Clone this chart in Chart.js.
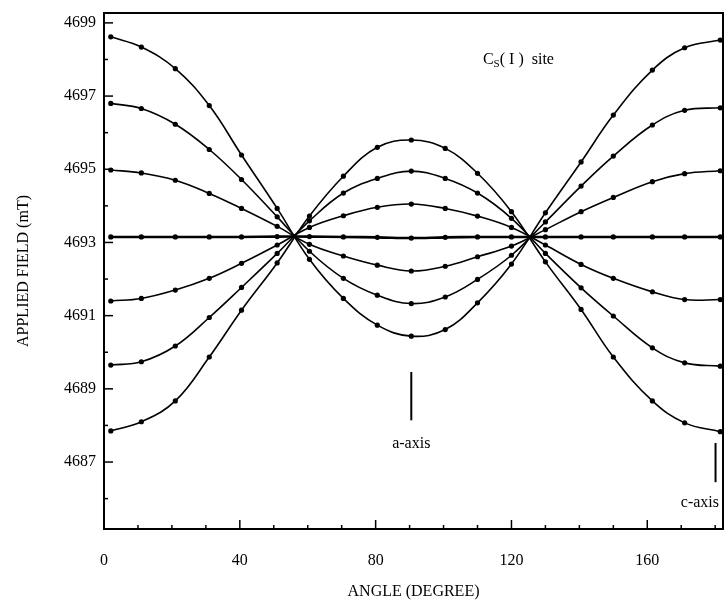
<!DOCTYPE html>
<html>
<head>
<meta charset="utf-8">
<script src="https://cdn.jsdelivr.net/npm/chart.js@4/dist/chart.umd.min.js"></script>
<style>
  body { margin: 0; background: #fff; }
  #wrap { width: 727px; height: 610px; }
</style>
</head>
<body>
<div id="wrap"><canvas id="fieldChart" width="727" height="610"></canvas></div>
<script>
// angle of each measurement (degree)
const angles = [2, 11, 21, 31, 40.5, 51, 60.5, 70.5, 80.5, 90.5, 100.5, 110, 120, 130, 140.5, 150, 161.5, 171, 181.5];

// resonance field of the seven lines (mT)
const line1 = [4698.62, 4698.34, 4697.75, 4696.74, 4695.39, 4693.93, 4692.54, 4691.47, 4690.74, 4690.44, 4690.62, 4691.35, 4692.41, 4693.81, 4695.20, 4696.48, 4697.71, 4698.32, 4698.53];
const line2 = [4696.80, 4696.66, 4696.23, 4695.54, 4694.72, 4693.70, 4692.76, 4692.02, 4691.56, 4691.33, 4691.51, 4691.99, 4692.65, 4693.56, 4694.54, 4695.36, 4696.21, 4696.61, 4696.68];
const line3 = [4694.98, 4694.90, 4694.70, 4694.34, 4693.93, 4693.44, 4692.95, 4692.63, 4692.38, 4692.22, 4692.35, 4692.61, 4692.90, 4693.35, 4693.84, 4694.23, 4694.66, 4694.88, 4694.96];
const line4 = [4693.15, 4693.15, 4693.15, 4693.15, 4693.15, 4693.16, 4693.16, 4693.15, 4693.14, 4693.12, 4693.14, 4693.15, 4693.15, 4693.15, 4693.15, 4693.15, 4693.15, 4693.15, 4693.15];
const line5 = [4691.40, 4691.47, 4691.70, 4692.02, 4692.43, 4692.93, 4693.41, 4693.73, 4693.96, 4694.05, 4693.93, 4693.72, 4693.41, 4692.93, 4692.40, 4692.02, 4691.65, 4691.44, 4691.44];
const line6 = [4689.65, 4689.74, 4690.17, 4690.95, 4691.77, 4692.70, 4693.59, 4694.35, 4694.75, 4694.95, 4694.75, 4694.35, 4693.66, 4692.70, 4691.76, 4690.99, 4690.12, 4689.71, 4689.62];
const line7 = [4687.85, 4688.10, 4688.67, 4689.87, 4691.15, 4692.44, 4693.72, 4694.81, 4695.60, 4695.80, 4695.57, 4694.89, 4693.84, 4692.47, 4691.17, 4689.87, 4688.67, 4688.07, 4687.83];

const xTicks = [0, 40, 80, 120, 160];
const yTicks = [4687, 4689, 4691, 4693, 4695, 4697, 4699];

const allLines = [line1, line2, line3, line4, line5, line6, line7];

function toPoints(vals) {
  return vals.map((v, i) => ({ x: angles[i], y: v }));
}

const datasets = allLines.map(vals => ({
  data: toPoints(vals),
  borderColor: '#000',
  backgroundColor: '#000',
  borderWidth: 1.6,
  pointRadius: 2.6,
  pointBorderWidth: 0,
  tension: 0.4,
  fill: false
}));
datasets[3].borderWidth = 2.6;

// ticks pointing inward, frame and the annotations
const extras = {
  id: 'extras',
  afterDraw(chart) {
    const c = chart.ctx;
    const a = chart.chartArea;
    const xs = chart.scales.x, ys = chart.scales.y;
    c.save();
    c.strokeStyle = '#000';
    c.lineWidth = 2;
    c.strokeRect(a.left, a.top, a.right - a.left, a.bottom - a.top);

    c.lineWidth = 1.5;
    yTicks.forEach(v => {
      const p = ys.getPixelForValue(v);
      c.beginPath(); c.moveTo(a.left, p); c.lineTo(a.left + 9, p); c.stroke();
    });
    for (let v = 4686; v <= 4698; v += 2) {
      const p = ys.getPixelForValue(v);
      c.beginPath(); c.moveTo(a.left, p); c.lineTo(a.left + 4, p); c.stroke();
    }
    xTicks.forEach(v => {
      const p = xs.getPixelForValue(v);
      c.beginPath(); c.moveTo(p, a.bottom); c.lineTo(p, a.bottom - 9); c.stroke();
    });
    for (let v = 10; v <= 180; v += 10) {
      if (v % 40 === 0) continue;
      const p = xs.getPixelForValue(v);
      c.beginPath(); c.moveTo(p, a.bottom); c.lineTo(p, a.bottom - 4); c.stroke();
    }

    // a-axis marker
    c.lineWidth = 2;
    let px = xs.getPixelForValue(90.5);
    c.beginPath(); c.moveTo(px, ys.getPixelForValue(4689.46)); c.lineTo(px, ys.getPixelForValue(4688.14)); c.stroke();
    c.fillStyle = '#000';
    c.font = '16px "Liberation Serif"';
    c.textAlign = 'center';
    c.textBaseline = 'middle';
    c.fillText('a-axis', px, ys.getPixelForValue(4687.49));

    // c-axis marker
    px = xs.getPixelForValue(180.1);
    c.beginPath(); c.moveTo(px, ys.getPixelForValue(4687.52)); c.lineTo(px, ys.getPixelForValue(4686.45)); c.stroke();
    c.textAlign = 'right';
    c.fillText('c-axis', a.right - 4, ys.getPixelForValue(4685.88));

    // site label
    c.textAlign = 'left';
    const sx = xs.getPixelForValue(111.6), sy = ys.getPixelForValue(4697.98);
    c.font = '16px "Liberation Serif"';
    c.fillText('C', sx, sy);
    let w = c.measureText('C').width;
    c.font = '11px "Liberation Serif"';
    c.fillText('S', sx + w, sy + 4);
    w += c.measureText('S').width;
    c.font = '16px "Liberation Serif"';
    c.fillText('( I )  site', sx + w, sy);
    c.restore();
  }
};

new Chart(document.getElementById('fieldChart').getContext('2d'), {
  type: 'line',
  data: { datasets: datasets },
  options: {
    responsive: false,
    animation: false,
    layout: { padding: { top: 13, right: 4, left: 0, bottom: 0 } },
    plugins: { legend: { display: false }, tooltip: { enabled: false } },
    scales: {
      x: {
        type: 'linear',
        min: 0,
        max: 182.3,
        afterBuildTicks: s => { s.ticks = xTicks.map(v => ({ value: v })); },
        afterFit: s => { s.height = 81; s.paddingLeft = 0; s.paddingRight = 0; },
        grid: { display: false, drawTicks: false },
        border: { display: false },
        ticks: { color: '#000', padding: 22, font: { family: 'Liberation Serif', size: 16 } },
        title: { display: true, text: 'ANGLE (DEGREE)', color: '#000', padding: { top: 10, bottom: 9 }, font: { family: 'Liberation Serif', size: 16 } }
      },
      y: {
        type: 'linear',
        min: 4685.17,
        max: 4699.27,
        afterBuildTicks: s => { s.ticks = yTicks.map(v => ({ value: v })); },
        afterFit: s => { s.width = 104; s.paddingTop = 0; s.paddingBottom = 0; },
        grid: { display: false, drawTicks: false },
        border: { display: false },
        ticks: { color: '#000', padding: 8, font: { family: 'Liberation Serif', size: 16 }, callback: v => String(v) },
        title: { display: true, text: 'APPLIED FIELD (mT)', color: '#000', padding: { top: 14 }, font: { family: 'Liberation Serif', size: 16 } }
      }
    }
  },
  plugins: [extras]
});
</script>
</body>
</html>
